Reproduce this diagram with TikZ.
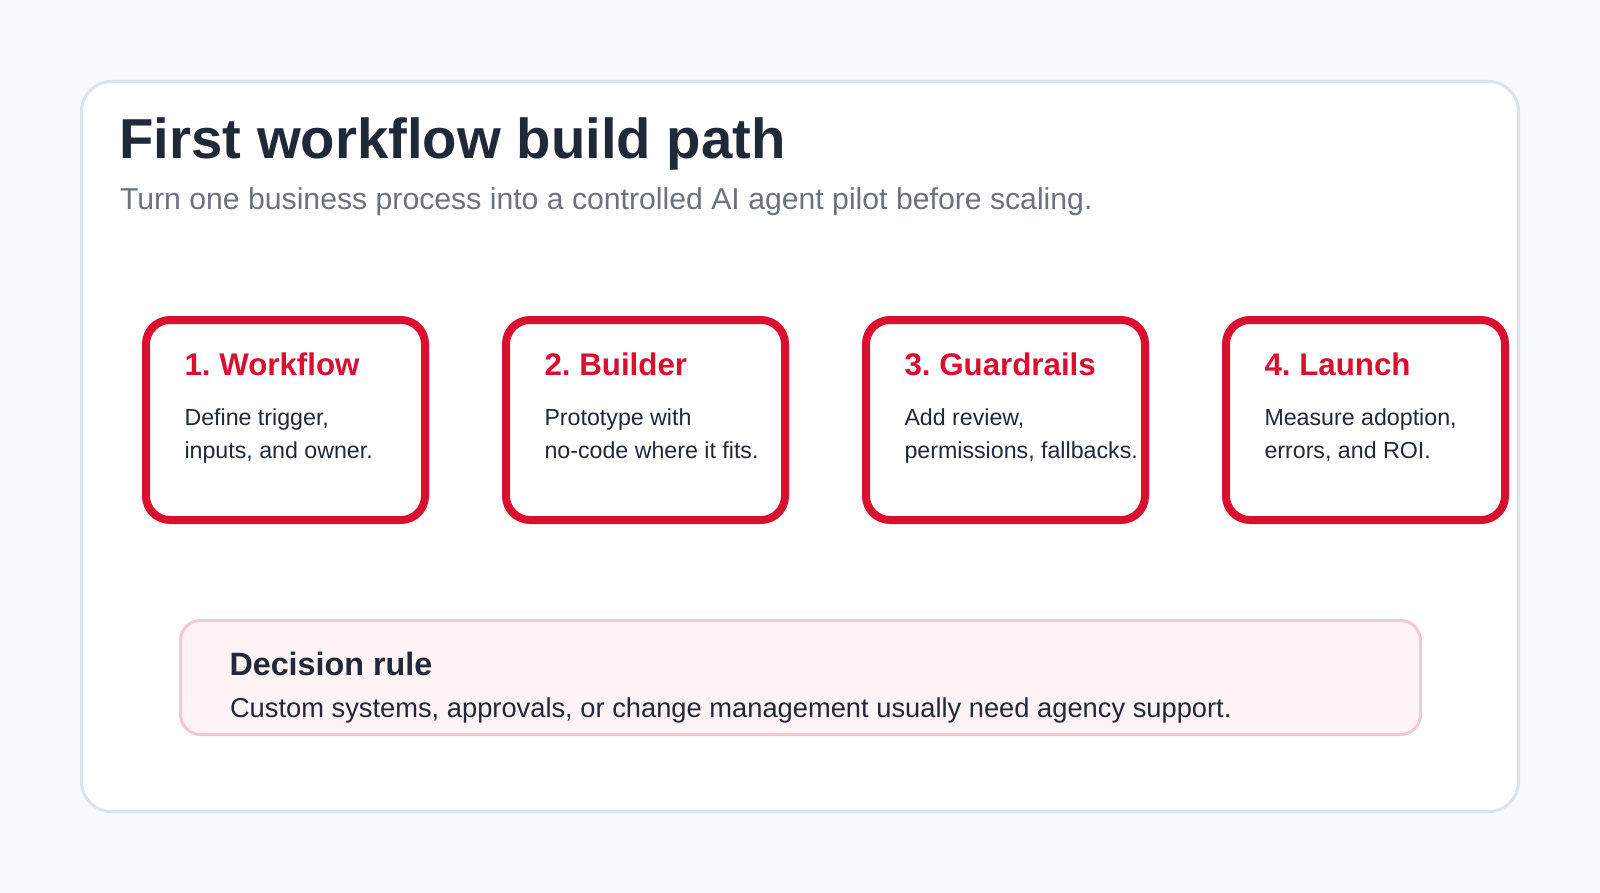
\documentclass[tikz,border=0pt]{standalone}
\usepackage{fontspec}
\setmainfont{Liberation Sans}
\frenchspacing
\definecolor{pagebg}{HTML}{F8F9FB}
\definecolor{cardline}{HTML}{DCE3EC}
\definecolor{ink}{HTML}{1F2937}
\definecolor{muted}{HTML}{6B7280}
\definecolor{accent}{HTML}{DA0E2F}
\definecolor{notefill}{HTML}{FFF3F5}
\definecolor{noteline}{HTML}{F4C8D2}
\tikzset{
  txt/.style={anchor=base west, inner sep=0pt, outer sep=0pt},
  stepbox/.style={draw=accent, line width=8pt, fill=white, rounded corners=24pt,
    minimum width=279pt, minimum height=200pt, anchor=north west, inner sep=0pt, outer sep=0pt},
  steptitle/.style={txt, text=accent, font=\fontsize{31.3}{35}\selectfont\bfseries},
  stepbody/.style={txt, text=ink, font=\fontsize{23.2}{28}\selectfont},
}
\begin{document}
\begin{tikzpicture}[x=1pt,y=-1pt]
\useasboundingbox (0,0) rectangle (1600,893);
\fill[pagebg] (0,0) rectangle (1600,893);
% card
\node[draw=cardline, line width=3pt, fill=white, rounded corners=30pt,
  minimum width=1437pt, minimum height=730pt, anchor=north west, inner sep=0pt, outer sep=0pt]
  (card) at (81.5,81.5) {};
\node[txt, text=ink, font=\fontsize{56.3}{60}\selectfont\bfseries] (title) at (119.5,159) {First workflow build path};
\node[txt, text=muted, font=\fontsize{30.2}{34}\selectfont] (subtitle) at (120,210) {Turn one business process into a controlled AI agent pilot before scaling.};
% steps
\foreach \i/\x/\t/\a/\b in {
  1/146/{1. Workflow}/{Define trigger,}/{inputs, and owner.},
  2/506/{2. Builder}/{Prototype with}/{no-code where it fits.},
  3/866/{3. Guardrails}/{Add review,}/{permissions, fallbacks.},
  4/1226/{4. Launch}/{Measure adoption,}/{errors, and ROI.}}{
  \node[stepbox] (box\i) at (\x,320) {};
  \node[steptitle] (head\i) at ([xshift=38.5pt,yshift=-55pt]box\i.north west) {\t};
  \node[stepbody] (linea\i) at ([xshift=38.5pt,yshift=-105pt]box\i.north west) {\a};
  \node[stepbody] (lineb\i) at ([xshift=38.5pt,yshift=-138pt]box\i.north west) {\b};
}
% decision rule
\node[draw=noteline, line width=3pt, fill=notefill, rounded corners=20pt,
  minimum width=1240pt, minimum height=114pt, anchor=north west, inner sep=0pt, outer sep=0pt]
  (rule) at (180.5,620.5) {};
\node[txt, text=ink, font=\fontsize{32.3}{36}\selectfont\bfseries] (ruletitle) at (229.5,675) {Decision rule};
\node[txt, text=ink, font=\fontsize{27.3}{32}\selectfont] (ruletext) at (230,717) {Custom systems, approvals, or change management usually need agency support.};
\end{tikzpicture}
\end{document}
